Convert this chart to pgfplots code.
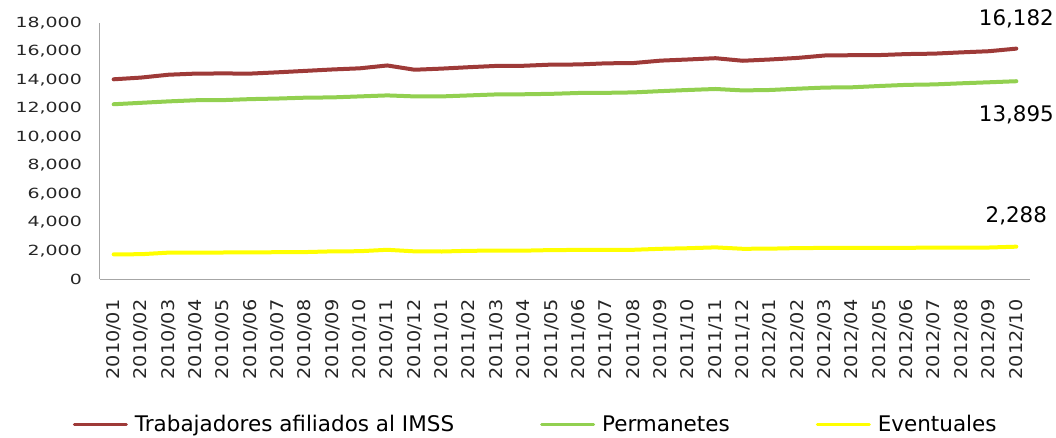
\documentclass[border=0pt]{standalone}
\usepackage{pgfplots}
\pgfplotsset{compat=1.18}
\usepackage{pgfplotstable}
\usepackage{fontspec}
\setmainfont{DejaVu Sans}
\newfontfamily\ytfont[FakeStretch=1.35]{DejaVu Sans}
\newfontfamily\xtfont[FakeStretch=1.1]{DejaVu Sans}
\definecolor{cred}{HTML}{9E3A38}
\definecolor{cgreen}{HTML}{92D050}
\definecolor{cyellow}{HTML}{FFFF00}
\definecolor{axgray}{HTML}{A6A6A6}

\pgfplotstableread{
x red green yellow
0 14030 12280 1750
1 14150 12380 1760
2 14350 12480 1870
3 14430 12560 1870
4 14440 12570 1880
5 14430 12640 1890
6 14520 12680 1900
7 14620 12740 1910
8 14720 12760 1960
9 14800 12830 1970
10 15000 12900 2070
11 14700 12830 1960
12 14780 12830 1950
13 14880 12900 2000
14 14970 12970 2010
15 14980 12980 2010
16 15060 13010 2050
17 15070 13070 2060
18 15150 13080 2070
19 15170 13110 2070
20 15340 13200 2140
21 15420 13280 2180
22 15510 13350 2240
23 15330 13250 2140
24 15420 13280 2150
25 15530 13370 2190
26 15700 13450 2200
27 15720 13470 2210
28 15730 13560 2200
29 15800 13640 2210
30 15830 13670 2220
31 15920 13750 2230
32 16000 13820 2230
33 16182 13895 2288
}\datatable

\begin{document}
\begin{tikzpicture}
\begin{axis}[
  scale only axis,
  width=930bp, height=256.6bp,
  xmin=-0.5, xmax=33.5,
  ymin=0, ymax=18000,
  clip=false,
  axis x line*=bottom,
  axis y line*=left,
  axis line style={draw=axgray, line width=1bp, -},
  major tick length=0pt,
  scaled y ticks=false,
  ytick={0,2000,...,18000},
  yticklabel style={font=\ytfont\fontsize{14bp}{16bp}\selectfont, text=black!85, inner sep=0pt, anchor=east,
    /pgf/number format/1000 sep={,}, /pgf/number format/assume math mode=true},
  yticklabel shift=18bp,
  xtick={0,...,33},
  xticklabels={2010/01,2010/02,2010/03,2010/04,2010/05,2010/06,2010/07,2010/08,2010/09,2010/10,2010/11,2010/12,
    2011/01,2011/02,2011/03,2011/04,2011/05,2011/06,2011/07,2011/08,2011/09,2011/10,2011/11,2011/12,
    2012/01,2012/02,2012/03,2012/04,2012/05,2012/06,2012/07,2012/08,2012/09,2012/10},
  xticklabel style={font=\xtfont\fontsize{17.5bp}{20bp}\selectfont, text=black!85, rotate=90, anchor=east, inner sep=0pt},
  xticklabel shift=20bp,
  legend style={draw=none, fill=none, inner sep=0pt, at={(rel axis cs:0,0)}, anchor=west,
    xshift=-27.3bp, yshift=-145bp, font=\fontsize{21.5bp}{24bp}\selectfont,
    /tikz/every odd column/.append style={column sep=5bp},
    /tikz/every even column/.append style={column sep=84bp}},
  legend columns=3,
  legend cell align=left,
  legend image code/.code={\draw[#1, line width=3bp] (0bp,0bp) -- (52bp,0bp);},
]
\addplot[cred, line width=4bp, line join=round, line cap=round] table[x=x, y=red] {\datatable};
\addlegendentry{Trabajadores afiliados al IMSS}
\addplot[cgreen, line width=4bp, line join=round, line cap=round] table[x=x, y=green] {\datatable};
\addlegendentry{Permanetes}
\addplot[cyellow, line width=4bp, line join=round, line cap=round] table[x=x, y=yellow] {\datatable};
\addlegendentry{Eventuales}
\node[font=\fontsize{21.4bp}{24bp}\selectfont, yshift=30bp] at (axis cs:33,16182) {16,182};
\node[font=\fontsize{21.4bp}{24bp}\selectfont, yshift=-33.7bp] at (axis cs:33,13895) {13,895};
\node[font=\fontsize{21.4bp}{24bp}\selectfont, yshift=30.7bp] at (axis cs:33,2288) {2,288};
\coordinate (O) at (rel axis cs:0,0);
\end{axis}
\pgfresetboundingbox
\path (O) ++(-100bp,-158.7bp) rectangle ++(1056bp,438bp);
\end{tikzpicture}
\end{document}
